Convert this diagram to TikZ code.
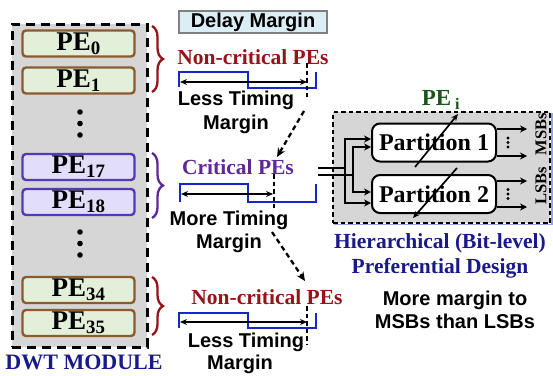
\documentclass[tikz,border=0pt]{standalone}
\usepackage{fontspec}
\setmainfont{Liberation Serif}
\setsansfont{Liberation Sans}
\usetikzlibrary{arrows.meta,decorations.pathreplacing}
\definecolor{dred}{RGB}{150,20,25}
\definecolor{dpurple}{RGB}{95,40,150}
\definecolor{navy}{RGB}{25,25,140}
\definecolor{dgreen}{RGB}{25,85,25}
\definecolor{wblue}{RGB}{20,40,200}
\definecolor{pebrown}{RGB}{140,90,45}
\definecolor{pegfill}{RGB}{226,240,218}
\definecolor{pepborder}{RGB}{85,55,185}
\definecolor{pepfill}{RGB}{226,222,250}
\definecolor{boxgray}{RGB}{214,214,214}
\definecolor{dmfill}{RGB}{220,238,245}
\definecolor{edgeblue}{RGB}{150,165,225}
\begin{document}
\begin{tikzpicture}[x=1pt,y=-1pt,
  pebox/.style={rounded corners=3.5pt, line width=2.4pt, minimum width=112pt, minimum height=26pt, inner sep=0pt,
    font=\bfseries\fontsize{27}{27}\selectfont},
  pegreen/.style={pebox, draw=pebrown, fill=pegfill},
  pepurp/.style={pebox, draw=pepborder, fill=pepfill},
  serlab/.style={font=\bfseries\fontsize{21.5}{22}\selectfont, inner sep=0pt},
  sanlab/.style={font=\sffamily\bfseries\fontsize{20}{21}\selectfont, inner sep=0pt},
  brc/.style={decorate, decoration={brace, amplitude=11pt, aspect=0.5}, line width=2.3pt},
  wave/.style={draw=wblue, line width=2.2pt},
  dbl/.style={{Stealth[length=7pt,width=6pt]}-{Stealth[length=7pt,width=6pt]}, line width=1.7pt},
  vdash/.style={line width=2.2pt, dash pattern=on 4.5pt off 3pt},
  darr/.style={line width=2.3pt, dash pattern=on 5pt off 3.5pt, -{Stealth[length=9pt,width=8pt]}},
  part/.style={draw=black, fill=white, line width=2pt, rounded corners=8pt, minimum width=124pt, minimum height=38pt,
    inner sep=0pt, font=\bfseries\fontsize{24}{24}\selectfont},
  arr/.style={line width=1.9pt, -{Stealth[length=7pt,width=7pt]}},
  bitlab/.style={rotate=90, font=\bfseries\fontsize{16.5}{16.5}\selectfont, inner sep=0pt}
]
\useasboundingbox (0,0) rectangle (553,375);
\fill[white] (0,0) rectangle (553,375);

% DWT module
\node[draw=black, fill=boxgray, line width=3pt, dash pattern=on 9pt off 6pt, minimum width=135pt, minimum height=323pt, inner sep=0pt] (dwt) at (79.5,185.5) {};
\node[pegreen] (pe0) at (78.5,43.5) {PE\textsubscript{0}};
\node[pegreen] (pe1) at (78.5,80.5) {PE\textsubscript{1}};
\node[pepurp] (pe17) at (78.5,167) {PE\textsubscript{17}};
\node[pepurp] (pe18) at (78.5,202) {PE\textsubscript{18}};
\node[pegreen] (pe34) at (78.5,290) {PE\textsubscript{34}};
\node[pegreen] (pe35) at (78.5,323) {PE\textsubscript{35}};
\foreach \yy in {112,123.5,135,232,243.5,255} \fill (80,\yy) circle (2.8pt);
\node[font=\bfseries\fontsize{22}{22}\selectfont, text=navy, inner sep=0pt] (dwtl) at (84,362) {DWT MODULE};

% braces
\draw[brc, dred] (152,26) -- (152,92);
\draw[brc, dpurple] (152,153) -- (152,218);
\draw[brc, dred] (152,277) -- (152,335);

% Delay margin title
\node[draw=gray, fill=dmfill, line width=1.1pt, minimum width=148pt, minimum height=22pt, inner sep=0pt, sanlab] (dm) at (253,22) {Delay Margin};

% group 1
\node[serlab, text=dred] (nc1) at (253,57) {Non-critical PEs};
\draw[wave] (179,87) -- (179,72) -- (248,72) -- (248,88) -- (316,88) -- (316,72);
\coordinate (a1l) at (180,82); \coordinate (a1r) at (307,82);
\draw[dbl] (a1l) -- (a1r);
\coordinate (d1t) at (307,63); \coordinate (d1b) at (307,97);
\draw[vdash] (d1t) -- (d1b);
\node[sanlab] (lt1) at (236,100) {Less Timing};
\node[sanlab] (mg1) at (236,124) {Margin};

% group 2
\node[serlab, text=dpurple] (cr) at (238,167) {Critical PEs};
\draw[wave] (180,202) -- (180,184) -- (248,184) -- (248,202) -- (316,202) -- (316,184);
\coordinate (a2l) at (181,194); \coordinate (a2r) at (273,194);
\draw[dbl] (a2l) -- (a2r);
\coordinate (d2t) at (274,174); \coordinate (d2b) at (274,208);
\draw[vdash] (d2t) -- (d2b);
\node[sanlab] (lt2) at (229,220) {More Timing};
\node[sanlab] (mg2) at (229,243) {Margin};

% group 3
\node[serlab, text=dred] (nc3) at (267,297) {Non-critical PEs};
\draw[wave] (179,328) -- (179,313) -- (248,313) -- (248,328) -- (316,328) -- (316,313);
\coordinate (a3l) at (180,322); \coordinate (a3r) at (307,322);
\draw[dbl] (a3l) -- (a3r);
\coordinate (d3t) at (307,306); \coordinate (d3b) at (307,344);
\draw[vdash] (d3t) -- (d3b);
\node[sanlab] (lt3) at (246,342) {Less Timing};
\node[sanlab] (mg3) at (240,364) {Margin};

% dashed arrows
\coordinate (s1) at (304,111); \coordinate (e1) at (277,157);
\draw[darr] (s1) -- (e1);
\coordinate (s2) at (272,232); \coordinate (e2) at (305,281);
\draw[darr] (s2) -- (e2);

% PE_i
\draw[edgeblue, line width=1.4pt] (552,113) -- (552,224.5) -- (334,224.5);
\node[draw=black, fill=boxgray, line width=2.2pt, dash pattern=on 4.5pt off 3pt, minimum width=217pt, minimum height=111pt, inner sep=0pt] (pei) at (441.5,167.5) {};
\node[font=\bfseries\fontsize{23}{23}\selectfont, text=dgreen, inner sep=0pt] (peil) at (441,100) {PE\,\textsubscript{i}};
\node[part] (p1) at (434,142.5) {Partition 1};
\node[part] (p2) at (434,194) {Partition 2};
% inputs
\coordinate (in1) at (318,168); \coordinate (in2) at (318,175);
\draw[line width=1.9pt] (in1) -- (345,168);
\draw[line width=1.9pt] (in2) -- (353,175);
\draw[arr] (345,168) -- (345,139) -- (p1.west |- 0,139);
\draw[arr] (345,168) -- (345,203) -- (p2.west |- 0,203);
\draw[arr] (353,175) -- (353,147) -- (p1.west |- 0,147);
\draw[arr] (353,175) -- (353,192) -- (p2.west |- 0,192);
% outputs
\draw[arr] ([yshift=13.5pt]p1.east) -- ++(30,0) coordinate (o1a);
\draw[arr] ([yshift=-13.5pt]p1.east) -- ++(30,0) coordinate (o1b);
\draw[arr] ([yshift=13pt]p2.east) -- ++(30,0) coordinate (o2a);
\draw[arr] ([yshift=-13pt]p2.east) -- ++(30,0) coordinate (o2b);
\foreach \yy in {138,142.5,147} \fill (508,\yy) circle (1.6pt);
\foreach \yy in {189.5,194,198.5} \fill (508,\yy) circle (1.6pt);
\node[bitlab] (msb) at (541,134) {MSBs};
\node[bitlab] (lsb) at (541,186) {LSBs};
% slack arrows
\coordinate (t1s) at (415,167); \coordinate (t1e) at (458,114);
\draw[line width=1.7pt, -{Stealth[length=7pt,width=6pt]}] (t1s) -- (t1e);
\coordinate (t2s) at (457,168); \coordinate (t2e) at (413,218);
\draw[line width=1.7pt, -{Stealth[length=7pt,width=6pt]}] (t2s) -- (t2e);

% captions
\node[font=\bfseries\fontsize{21.5}{22}\selectfont, text=navy, inner sep=0pt] (hier) at (440,243) {Hierarchical (Bit-level)};
\node[font=\bfseries\fontsize{21.5}{22}\selectfont, text=navy, inner sep=0pt] (pref) at (440,268) {Preferential Design};
\node[sanlab] (mm1) at (455,300) {More margin to};
\node[sanlab] (mm2) at (455,321) {MSBs than LSBs};
\end{tikzpicture}
\end{document}
